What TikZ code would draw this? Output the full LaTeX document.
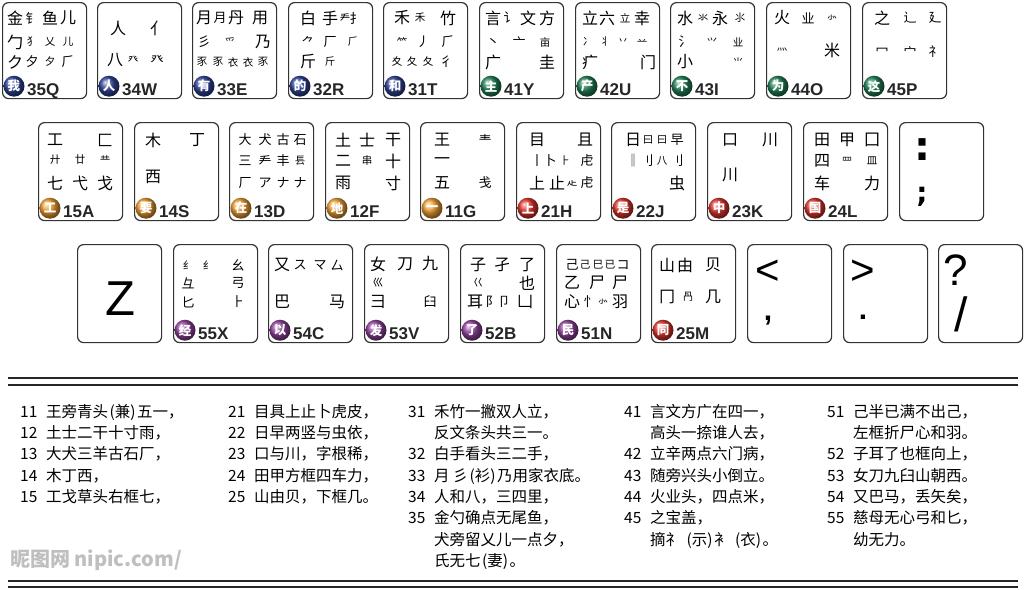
\documentclass[tikz,border=0pt]{standalone}
\usepackage{fontspec}
\newfontfamily\cjk{Noto Sans CJK SC}
\newfontfamily\lat{Liberation Sans}
\newfontfamily\djv{DejaVu Sans}
\usetikzlibrary{calc}
\definecolor{kblue}{HTML}{30469A}
\definecolor{kgreen}{HTML}{23855A}
\definecolor{korange}{HTML}{F3A233}
\definecolor{kred}{HTML}{E5362E}
\definecolor{kpurple}{HTML}{9444A0}
\definecolor{kline}{HTML}{333333}
\tikzset{
 keybox/.style={draw=kline, line width=1.2pt, rounded corners=6pt, fill=white, inner sep=0pt, anchor=north west, minimum width=84pt},
 badge/.style={circle, inner sep=0pt, minimum size=21pt, text=white, font=\cjk\bfseries\fontsize{12.5}{12.5}\selectfont},
 klabel/.style={anchor=base west, inner sep=0pt, font=\lat\bfseries\fontsize{17}{17}\selectfont, text=black!85},
 rad/.style={inner sep=0pt, font=\cjk\fontsize{16}{16}\selectfont},
 radm/.style={inner sep=0pt, font=\cjk\fontsize{13}{13}\selectfont},
 rads/.style={inner sep=0pt, font=\cjk\fontsize{10.5}{10.5}\selectfont},
 punct/.style={anchor=base, inner sep=0pt, text height=0.75em, text depth=0pt},
 punctlow/.style={anchor=base, inner sep=0pt, text height=0.3em, text depth=0.2em},
 num/.style={anchor=west, inner sep=0pt, font=\cjk\fontsize{15.5}{15.5}\selectfont},
 txt/.style={anchor=west, inner sep=0pt, font=\cjk\fontsize{15.5}{15.5}\selectfont},
}
\newcommand\wkey[7]{%
 \node[keybox, minimum height=#4pt] (#1) at (#2,#3) {};
 \node[badge, ball color=#5] (#1b) at ($(#1.south west)+(12,-13)$) {#6};
 \node[klabel] (#1l) at ($(#1.south west)+(25,-4)$) {#7};}
\newcommand\ekey[4]{\node[keybox, minimum height=#4pt] (#1) at (#2,#3) {};}
\newcommand\kr[5][rad]{\node[#1] (#2-#3-#4) at ($(#2.north west)+(#3,#4)$) {#5};}
\newcommand\tline[5]{%
 \node[num] (#1n) at (#2,#3) {#4};
 \node[txt] (#1t) at (#2+26,#3) {#5};}
\newcommand\tcont[4]{\node[txt] (#1t) at (#2+26,#3) {#4};}
\newcommand\pl[1]{\kern1.5pt(#1)\kern1.5pt}
\begin{document}
\begin{tikzpicture}[x=1pt,y=-1pt]
\fill[white] (0,0) rectangle (1024,589);
\useasboundingbox (0,0) rectangle (1024,589);
% ---------- row 1
\wkey{q}{2}{2}{96}{kblue}{我}{35Q}
\kr{q}{13}{16}{金}\kr[radm]{q}{30}{16}{钅}\kr{q}{48}{16}{鱼}\kr{q}{66}{16}{儿}
\kr{q}{13}{40}{勹}\kr[rads]{q}{30}{40}{犭}\kr[rads]{q}{48}{40}{乂}\kr[rads]{q}{66}{40}{儿}
\kr{q}{13}{60}{ク}\kr[radm]{q}{30}{60}{夕}\kr[rads]{q}{48}{60}{夕}\kr[radm]{q}{66}{60}{⺁}
\wkey{w}{97}{2}{96}{kblue}{人}{34W}
\kr{w}{21}{26}{人}\kr{w}{61}{26}{亻}
\kr{w}{18}{58}{八}\kr[rads]{w}{36}{58}{癶}\kr[radm]{w}{60}{58}{癶}
\wkey{e}{192}{2}{96}{kblue}{有}{33E}
\kr{e}{12}{16}{月}\kr[radm]{e}{28}{16}{月}\kr{e}{44}{16}{丹}\kr{e}{68}{16}{用}
\kr[radm]{e}{12}{40}{彡}\kr[rads]{e}{38}{40}{爫}\kr{e}{71}{40}{乃}
\kr[rads]{e}{10}{60}{豕}\kr[rads]{e}{26}{60}{豕}\kr[rads]{e}{41}{60}{衣}\kr[rads]{e}{56}{60}{衣}\kr[rads]{e}{71}{60}{豕}
\wkey{r}{288}{2}{96}{kblue}{的}{32R}
\kr{r}{20}{16}{白}\kr{r}{42}{16}{手}\kr[rads]{r}{57}{16}{龵}\kr[radm]{r}{68}{16}{扌}
\kr[radm]{r}{20}{40}{⺈}\kr[radm]{r}{42}{40}{厂}\kr[rads]{r}{65}{40}{⺁}
\kr{r}{20}{60}{斤}\kr[rads]{r}{42}{60}{斤}
\wkey{t}{383}{2}{96}{kblue}{和}{31T}
\kr{t}{19}{16}{禾}\kr[rads]{t}{37}{16}{禾}\kr{t}{65}{16}{竹}
\kr[rads]{t}{19}{40}{⺮}\kr[radm]{t}{40}{40}{丿}\kr[radm]{t}{65}{40}{⺁}
\kr[rads]{t}{14}{60}{夊}\kr[rads]{t}{29}{60}{夂}\kr[rads]{t}{45}{60}{夂}\kr[radm]{t}{63}{60}{彳}
\wkey{y}{479}{2}{96}{kgreen}{主}{41Y}
\kr{y}{14}{16}{言}\kr[radm]{y}{31}{16}{讠}\kr{y}{49}{16}{文}\kr{y}{68}{16}{方}
\kr[radm]{y}{14}{40}{丶}\kr[radm]{y}{40}{40}{亠}\kr[rads]{y}{66}{40}{亩}
\kr{y}{14}{60}{广}\kr{y}{68}{60}{圭}
\wkey{u}{575}{2}{96}{kgreen}{产}{42U}
\kr{u}{15}{16}{立}\kr{u}{32}{16}{六}\kr[rads]{u}{50}{16}{立}\kr{u}{67}{16}{幸}
\kr[rads]{u}{13}{40}{冫}\kr[rads]{u}{30}{40}{丬}\kr[rads]{u}{48}{40}{丷}\kr[rads]{u}{67}{40}{䒑}
\kr{u}{15}{60}{疒}\kr{u}{73}{60}{门}
\wkey{i}{670}{2}{96}{kgreen}{不}{43I}
\kr{i}{15}{16}{水}\kr[rads]{i}{33}{16}{氺}\kr{i}{50}{16}{永}\kr[rads]{i}{70}{16}{⺢}
\kr[radm]{i}{15}{40}{氵}\kr[rads]{i}{42}{40}{⺍}\kr[rads]{i}{68}{40}{业}
\kr{i}{15}{60}{小}\kr[rads]{i}{68}{60}{⺌}
\wkey{o}{766}{2}{96}{kgreen}{为}{44O}
\kr{o}{16}{16}{火}\kr[radm]{o}{42}{16}{业}\kr[rads]{o}{66}{16}{⺗}
\kr[rads]{o}{16}{48}{灬}\kr{o}{66}{48}{米}
\wkey{p}{862}{2}{96}{kgreen}{这}{45P}
\kr{p}{20}{16}{之}\kr[radm]{p}{48}{16}{辶}\kr[radm]{p}{73}{16}{廴}
\kr[radm]{p}{20}{50}{冖}\kr[radm]{p}{48}{50}{宀}\kr[radm]{p}{73}{50}{礻}
% ---------- row 2
\wkey{a}{38}{122}{98}{korange}{工}{15A}
\kr{a}{17}{18}{工}\kr{a}{67}{18}{匚}
\kr[rads]{a}{17}{38}{廾}\kr[rads]{a}{42}{38}{廿}\kr[rads]{a}{67}{38}{龷}
\kr{a}{17}{61}{七}\kr{a}{42}{61}{弋}\kr{a}{67}{61}{戈}
\wkey{s}{134}{122}{98}{korange}{要}{14S}
\kr{s}{19}{18}{木}\kr{s}{63}{18}{丁}\kr{s}{19}{55}{西}
\wkey{d}{229}{122}{98}{korange}{在}{13D}
\kr[radm]{d}{16}{18}{大}\kr[radm]{d}{36}{18}{犬}\kr[radm]{d}{54}{18}{古}\kr[radm]{d}{71}{18}{石}
\kr[radm]{d}{16}{39}{三}\kr[radm]{d}{36}{39}{龵}\kr[radm]{d}{54}{39}{丰}\kr[rads]{d}{71}{39}{镸}
\kr[radm]{d}{16}{61}{厂}\kr[radm]{d}{36}{61}{ア}\kr[radm]{d}{54}{61}{ナ}\kr[radm]{d}{71}{61}{ナ}
\wkey{f}{325}{122}{98}{korange}{地}{12F}
\kr{f}{18}{18}{土}\kr{f}{42}{18}{士}\kr{f}{68}{18}{干}
\kr{f}{18}{39}{二}\kr[rads]{f}{42}{39}{串}\kr{f}{68}{39}{十}
\kr{f}{18}{61}{雨}\kr{f}{68}{61}{寸}
\wkey{g}{420}{122}{98}{korange}{一}{11G}
\kr{g}{22}{18}{王}\kr[radm]{g}{65}{18}{龶}
\kr{g}{22}{39}{一}
\kr{g}{22}{61}{五}\kr[radm]{g}{65}{61}{戋}
\wkey{h}{516}{122}{98}{kred}{上}{21H}
\kr{h}{21}{18}{目}\kr{h}{69}{18}{且}
\kr[radm]{h}{21}{39}{丨}\kr[radm]{h}{34}{39}{卜}\kr[rads]{h}{49}{39}{⺊}\kr[radm]{h}{71}{39}{虍}
\kr{h}{21}{61}{上}\kr{h}{41}{61}{止}\kr[rads]{h}{56}{61}{龰}\kr[radm]{h}{71}{61}{虍}
\wkey{j}{611}{122}{98}{kred}{是}{22J}
\kr{j}{22}{18}{日}\kr[rads]{j}{37}{18}{曰}\kr[rads]{j}{51}{18}{曰}\kr[radm]{j}{66}{18}{早}
\kr[radm]{j}{22}{39}{‖}\kr[radm]{j}{36}{39}{刂}\kr[rads]{j}{51}{39}{八}\kr[radm]{j}{66}{39}{刂}
\kr{j}{66}{61}{虫}
\wkey{k}{707}{122}{98}{kred}{中}{23K}
\kr{k}{23}{18}{口}\kr{k}{63}{18}{川}\kr{k}{23}{53}{川}
\wkey{l}{803}{122}{98}{kred}{国}{24L}
\kr{l}{19}{18}{田}\kr{l}{44}{18}{甲}\kr{l}{69}{18}{囗}
\kr{l}{19}{39}{四}\kr[rads]{l}{44}{39}{罒}\kr[rads]{l}{69}{39}{皿}
\kr{l}{19}{61}{车}\kr{l}{69}{61}{力}
\ekey{semi}{899}{122}{98}
\node[punct, font=\djv\bfseries\fontsize{40}{40}\selectfont] (colon) at ($(semi.north west)+(23,38)$) {:};
\node[punctlow, font=\djv\bfseries\fontsize{28}{28}\selectfont] (scolon) at ($(semi.north west)+(23,80)$) {;};
% ---------- row 3
\ekey{z}{77}{244}{98}
\node[punct, font=\lat\fontsize{49}{49}\selectfont] (zz) at ($(z.north west)+(43,71)$) {Z};
\wkey{x}{173}{244}{98}{kpurple}{经}{55X}
\kr[rads]{x}{15}{21}{纟}\kr[rads]{x}{35}{21}{纟}\kr[radm]{x}{65}{21}{幺}
\kr[radm]{x}{15}{39}{彑}\kr[radm]{x}{65}{39}{弓}
\kr[radm]{x}{15}{58}{匕}\kr[radm]{x}{65}{58}{⺊}
\wkey{c}{268}{244}{98}{kpurple}{以}{54C}
\kr{c}{14}{21}{又}\kr[radm]{c}{32}{21}{ス}\kr[radm]{c}{52}{21}{マ}\kr[radm]{c}{69}{21}{厶}
\kr{c}{14}{58}{巴}\kr{c}{69}{58}{马}
\wkey{v}{364}{244}{98}{kpurple}{发}{53V}
\kr{v}{14}{20}{女}\kr{v}{41}{20}{刀}\kr{v}{66}{20}{九}
\kr[rads]{v}{14}{39}{巛}
\kr{v}{14}{58}{彐}\kr[radm]{v}{66}{58}{臼}
\wkey{b}{460}{244}{98}{kpurple}{了}{52B}
\kr{b}{18}{21}{子}\kr{b}{42}{21}{孑}\kr{b}{67}{21}{了}
\kr[rads]{b}{18}{39}{巜}\kr{b}{67}{39}{也}
\kr{b}{15}{58}{耳}\kr[radm]{b}{32}{58}{阝}\kr[radm]{b}{44}{58}{卩}\kr{b}{65}{58}{凵}
\wkey{n}{556}{244}{98}{kpurple}{民}{51N}
\kr[radm]{n}{16}{21}{己}\kr[rads]{n}{29}{21}{己}\kr[rads]{n}{42}{21}{巳}\kr[rads]{n}{54}{21}{已}\kr[radm]{n}{67}{21}{コ}
\kr{n}{16}{39}{乙}\kr{n}{41}{39}{尸}\kr{n}{64}{39}{尸}
\kr{n}{16}{58}{心}\kr[radm]{n}{34}{58}{忄}\kr[rads]{n}{47}{58}{⺗}\kr{n}{64}{58}{羽}
\wkey{m}{651}{244}{98}{kred}{同}{25M}
\kr{m}{16}{21}{山}\kr{m}{34}{21}{由}\kr{m}{62}{21}{贝}
\kr{m}{16}{53}{冂}\kr[rads]{m}{37}{53}{冎}\kr{m}{62}{53}{几}
\ekey{comma}{747}{244}{98}
\node[punct, font=\lat\fontsize{42}{42}\selectfont] (lt) at ($(comma.north west)+(21,40)$) {<};
\node[punctlow, font=\lat\bfseries\fontsize{30}{30}\selectfont] (cm) at ($(comma.north west)+(21,76)$) {,};
\ekey{period}{843}{244}{98}
\node[punct, font=\lat\fontsize{42}{42}\selectfont] (gt) at ($(period.north west)+(20,40)$) {>};
\node[punctlow, font=\lat\bfseries\fontsize{30}{30}\selectfont] (pd) at ($(period.north west)+(20,75)$) {.};
\ekey{slash}{938}{244}{98}
\node[punct, font=\lat\fontsize{44}{44}\selectfont] (qm) at ($(slash.north west)+(18,41)$) {?};
\node[punct, font=\lat\fontsize{48}{48}\selectfont] (sl) at ($(slash.north west)+(23,87)$) {/};
% ---------- rules
\coordinate (r1a) at (8,378); \coordinate (r1b) at (1018,378);
\coordinate (r2a) at (8,385); \coordinate (r2b) at (1018,385);
\coordinate (r3a) at (8,581); \coordinate (r3b) at (1018,581);
\coordinate (r4a) at (8,587); \coordinate (r4b) at (1018,587);
\draw[line width=2.6pt, black!85] (r1a) -- (r1b);
\draw[line width=1.2pt, black!85] (r2a) -- (r2b);
\draw[line width=1.2pt, black!85] (r3a) -- (r3b);
\draw[line width=2.6pt, black!85] (r4a) -- (r4b);
% ---------- text
\tline{a1}{20}{412}{11}{王旁青头\pl{兼}五一，}
\tline{a2}{20}{433}{12}{土士二干十寸雨，}
\tline{a3}{20}{454}{13}{大犬三羊古石厂，}
\tline{a4}{20}{476}{14}{木丁西，}
\tline{a5}{20}{497}{15}{工戈草头右框七，}
\tline{b1}{228}{412}{21}{目具上止卜虎皮，}
\tline{b2}{228}{433}{22}{日早两竖与虫依，}
\tline{b3}{228}{454}{23}{口与川，字根稀，}
\tline{b4}{228}{476}{24}{田甲方框四车力，}
\tline{b5}{228}{497}{25}{山由贝，下框几。}
\tline{c1}{408}{412}{31}{禾竹一撇双人立，}
\tcont{c2}{408}{433}{反文条头共三一。}
\tline{c3}{408}{454}{32}{白手看头三二手，}
\tline{c4}{408}{476}{33}{月\kern3pt彡\pl{衫}乃用家衣底。}
\tline{c5}{408}{497}{34}{人和八，三四里，}
\tline{c6}{408}{518}{35}{金勺确点无尾鱼，}
\tcont{c7}{408}{540}{犬旁留乂儿一点夕，}
\tcont{c8}{408}{561}{氏无七\pl{妻}。}
\tline{d1}{624}{412}{41}{言文方广在四一，}
\tcont{d2}{624}{433}{高头一捺谁人去，}
\tline{d3}{624}{454}{42}{立辛两点六门病，}
\tline{d4}{624}{476}{43}{随旁兴头小倒立。}
\tline{d5}{624}{497}{44}{火业头，四点米，}
\tline{d6}{624}{518}{45}{之宝盖，}
\tcont{d7}{624}{540}{摘礻\kern4pt\pl{示}衤\kern4pt\pl{衣}。}
\tline{e1}{827}{412}{51}{己半已满不出己，}
\tcont{e2}{827}{433}{左框折尸心和羽。}
\tline{e3}{827}{454}{52}{子耳了也框向上，}
\tline{e4}{827}{476}{53}{女刀九臼山朝西。}
\tline{e5}{827}{497}{54}{又巴马，丢矢矣，}
\tline{e6}{827}{518}{55}{慈母无心弓和匕，}
\tcont{e7}{827}{540}{幼无力。}
% ---------- watermark
\node[anchor=west, inner sep=0pt, text=black!25, font=\cjk\bfseries\fontsize{20}{20}\selectfont] (wm) at (10,560) {昵图网 nipic.com/};
\end{tikzpicture}
\end{document}
